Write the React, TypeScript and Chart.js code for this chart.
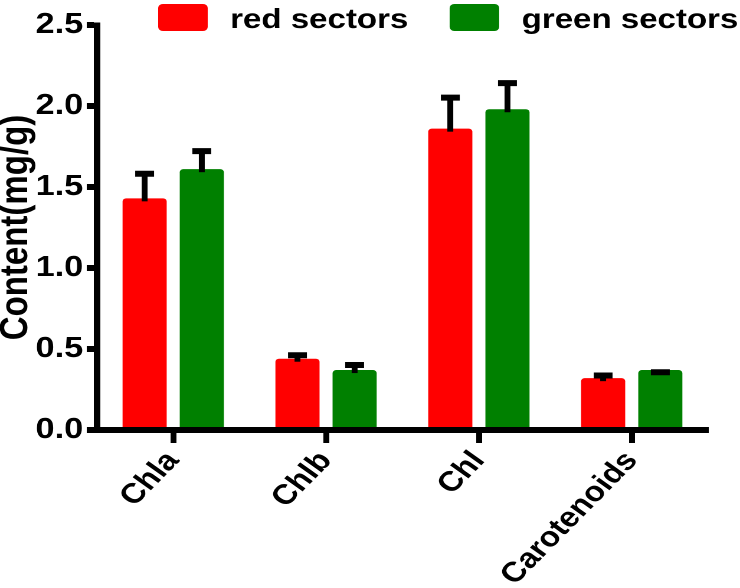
import { Chart, registerables } from 'chart.js';
import { useEffect, useRef } from 'react';

Chart.register(...registerables);

const categories = ['Chla', 'Chlb', 'Chl', 'Carotenoids'];
const seriesNames = ['red sectors', 'green sectors'];
const redValues = [1.43, 0.44, 1.86, 0.32];
const greenValues = [1.61, 0.37, 1.98, 0.37];
const redErrors = [0.17, 0.04, 0.21, 0.035];
const greenErrors = [0.13, 0.05, 0.18, 0.005];
const yTicks = [0, 0.5, 1.0, 1.5, 2.0, 2.5];

const errorSets = [redErrors, greenErrors];

// the reference is stretched sideways, so draw narrow and scale the canvas in x
const W = 627;
const H = 588;
const STRETCH = 740 / W;
const FONT = '"Liberation Sans", Arial, sans-serif';

const errorBars = {
	id: 'errorBars',
	afterDatasetsDraw(chart: any) {
		const { ctx } = chart;
		const y = chart.scales.y;
		chart.data.datasets.forEach((ds: any, i: number) => {
			const meta = chart.getDatasetMeta(i);
			meta.data.forEach((bar: any, j: number) => {
				const v = ds.data[j];
				const yBar = y.getPixelForValue(v);
				const yCap = y.getPixelForValue(v + errorSets[i][j]) + 3;
				ctx.save();
				ctx.strokeStyle = '#000';
				ctx.lineWidth = 5;
				ctx.beginPath();
				ctx.moveTo(bar.x, yBar + 3);
				ctx.lineTo(bar.x, yCap);
				ctx.stroke();
				ctx.lineWidth = 6;
				ctx.beginPath();
				ctx.moveTo(bar.x - 8, yCap);
				ctx.lineTo(bar.x + 8, yCap);
				ctx.stroke();
				ctx.restore();
			});
		});
	},
};

// legend sits over the plot, so it is drawn here instead of taking layout room
const topLegend = {
	id: 'topLegend',
	afterDraw(chart: any) {
		const { ctx } = chart;
		ctx.save();
		ctx.font = `bold 28px ${FONT}`;
		ctx.textBaseline = 'alphabetic';
		let x = 134;
		chart.data.datasets.forEach((ds: any) => {
			ctx.fillStyle = ds.backgroundColor;
			ctx.beginPath();
			ctx.roundRect(x, 4, 42, 27, 4);
			ctx.fill();
			x += 42 + 19;
			ctx.fillStyle = '#000';
			ctx.fillText(ds.label, x, 28);
			x += ctx.measureText(ds.label).width + 35;
		});
		ctx.restore();
	},
};

export default function App() {
	const canvasRef = useRef<HTMLCanvasElement | null>(null);

	useEffect(() => {
		if (!canvasRef.current) return;
		Chart.defaults.font.family = FONT;
		Chart.defaults.font.weight = 'bold';
		Chart.defaults.color = '#000';
		const chart = new Chart(canvasRef.current, {
			type: 'bar',
			data: {
				labels: categories,
				datasets: [
					{
						label: seriesNames[0],
						data: redValues,
						backgroundColor: '#ff0000',
						borderRadius: 3,
						categoryPercentage: 0.748,
						barPercentage: 0.772,
					},
					{
						label: seriesNames[1],
						data: greenValues,
						backgroundColor: '#008000',
						borderRadius: 3,
						categoryPercentage: 0.748,
						barPercentage: 0.772,
					},
				],
			},
			options: {
				animation: false,
				responsive: true,
				maintainAspectRatio: false,
				devicePixelRatio: 2,
				layout: { padding: { top: 25, right: 27, left: 0, bottom: 0 } },
				plugins: {
					legend: { display: false },
					tooltip: { enabled: false },
				},
				scales: {
					x: {
						afterFit: (s: any) => { s.height = 158; },
						grid: {
							offset: false,
							drawOnChartArea: false,
							tickLength: 13,
							tickWidth: 5,
							tickColor: '#000',
						},
						border: { display: true, color: '#000', width: 6, z: 1 },
						ticks: {
							minRotation: 50,
							maxRotation: 50,
							padding: 2,
							font: { size: 28, weight: 'bold' },
						},
					},
					y: {
						min: 0,
						max: 2.5,
						afterFit: (s: any) => { s.width = 82; },
						afterBuildTicks: (s: any) => { s.ticks = yTicks.map((v) => ({ value: v })); },
						grid: {
							drawOnChartArea: false,
							tickLength: 8.5,
							tickWidth: 6,
							tickColor: '#000',
						},
						border: { display: true, color: '#000', width: 5.5, z: 1 },
						ticks: {
							padding: 3,
							font: { size: 29, weight: 'bold' },
							callback: (v: any) => Number(v).toFixed(1),
						},
						title: {
							display: true,
							text: 'Content(mg/g)',
							font: { size: 33, weight: 'bold', lineHeight: 0.85 },
							padding: { top: 0, bottom: 0 },
						},
					},
				},
			},
			plugins: [errorBars, topLegend],
		});
		return () => chart.destroy();
	}, []);

	return (
		<div
			style={{
				position: 'absolute',
				left: 0,
				top: 0,
				width: W,
				height: H,
				transform: `scaleX(${STRETCH})`,
				transformOrigin: '0 0',
			}}
		>
			<canvas ref={canvasRef}></canvas>
		</div>
	);
}
